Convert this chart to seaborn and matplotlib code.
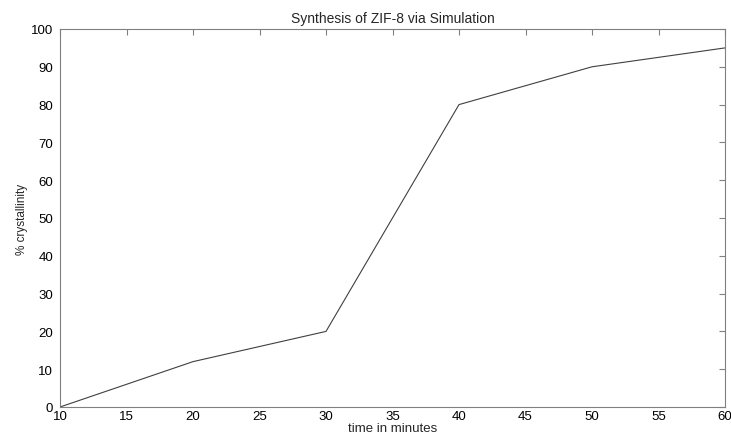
import matplotlib
matplotlib.use("Agg")
import matplotlib.pyplot as plt
import seaborn as sns
import pandas as pd

time_min = [10, 20, 30, 40, 50, 60]
crystallinity = [0, 12, 20, 80, 90, 95]
x_ticks = [10, 15, 20, 25, 30, 35, 40, 45, 50, 55, 60]
y_ticks = [0, 10, 20, 30, 40, 50, 60, 70, 80, 90, 100]

sns.set_style("white")
plt.rcParams['font.family'] = ['Liberation Sans', 'DejaVu Sans']

df = pd.DataFrame({"t": time_min, "c": crystallinity})

fig = plt.figure(figsize=(7.31, 4.35), dpi=100)
ax = fig.add_axes([60/731, 1 - 408/435, (725-60)/731, (408-30)/435])
sns.lineplot(data=df, x="t", y="c", ax=ax, color="#404040", linewidth=0.8)

ax.set_xlim(10, 60)
ax.set_ylim(0, 100)
ax.set_xticks(x_ticks)
ax.set_yticks(y_ticks)
ax.tick_params(direction="in", length=4, width=0.8, color="#808080",
               top=True, right=True, labelsize=9.5,
               labelcolor="black")
ax.tick_params(axis="x", pad=2.5)
ax.tick_params(axis="y", pad=5)
for s in ax.spines.values():
    s.set_color("#808080")
    s.set_linewidth(0.8)
    s.set_visible(True)
ax.set_title("Synthesis of ZIF-8 via Simulation", fontsize=10, pad=5)
ax.set_xlabel("time in minutes", fontsize=9.5, labelpad=0)
ax.set_ylabel("% crystallinity", fontsize=8.5, labelpad=2)

fig.savefig("out.png", dpi=100)
